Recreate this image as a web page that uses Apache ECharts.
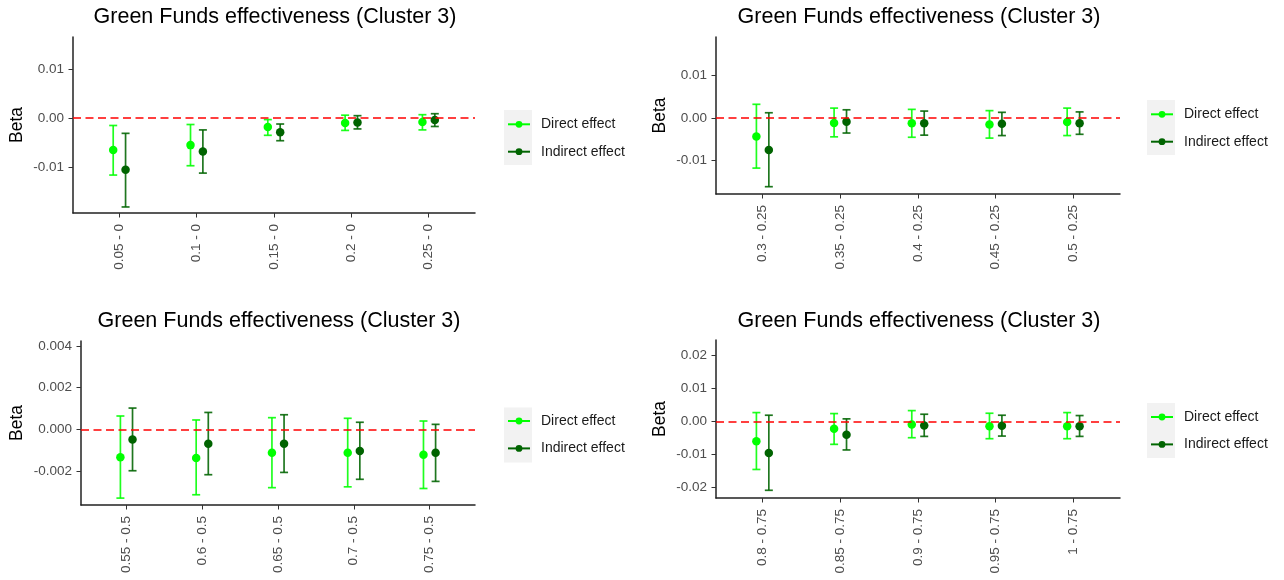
<!DOCTYPE html>
<html><head><meta charset="utf-8">
<script src="https://cdn.jsdelivr.net/npm/echarts@6/dist/echarts.min.js"></script>
<style>html,body{margin:0;padding:0;background:#fff}#c{width:1284px;height:580px}</style>
</head><body><div id="c"></div>
<script>
const titleText = 'Green Funds effectiveness (Cluster 3)';
const seriesNames = ['Direct effect', 'Indirect effect'];
const yName = 'Beta';

// Panel 1 (top-left)
const cats1 = ['0.05 - 0', '0.1 - 0', '0.15 - 0', '0.2 - 0', '0.25 - 0'];
const direct1   = [-0.0065, -0.0055, -0.0018, -0.0010, -0.0008];
const direct1Lo = [-0.0116, -0.0097, -0.0035, -0.0025, -0.0024];
const direct1Hi = [-0.0015, -0.0013, -0.0003, 0.0006, 0.0007];
const indirect1   = [-0.0105, -0.0068, -0.0029, -0.0009, -0.0004];
const indirect1Lo = [-0.0181, -0.0112, -0.0046, -0.0022, -0.0017];
const indirect1Hi = [-0.0031, -0.0024, -0.0012, 0.0005, 0.0009];
const yTicks1 = [-0.01, 0, 0.01];

// Panel 2 (top-right)
const cats2 = ['0.3 - 0.25', '0.35 - 0.25', '0.4 - 0.25', '0.45 - 0.25', '0.5 - 0.25'];
const direct2   = [-0.0044, -0.0012, -0.0013, -0.0016, -0.0010];
const direct2Lo = [-0.0119, -0.0045, -0.0046, -0.0048, -0.0042];
const direct2Hi = [0.0032, 0.0023, 0.0020, 0.0017, 0.0023];
const indirect2   = [-0.0076, -0.0009, -0.0013, -0.0014, -0.0013];
const indirect2Lo = [-0.0163, -0.0036, -0.0041, -0.0042, -0.0039];
const indirect2Hi = [0.0012, 0.0019, 0.0016, 0.0013, 0.0014];
const yTicks2 = [-0.01, 0, 0.01];

// Panel 3 (bottom-left)
const cats3 = ['0.55 - 0.5', '0.6 - 0.5', '0.65 - 0.5', '0.7 - 0.5', '0.75 - 0.5'];
const direct3   = [-0.00134, -0.00137, -0.00112, -0.00112, -0.00121];
const direct3Lo = [-0.00329, -0.00313, -0.00279, -0.00275, -0.00283];
const direct3Hi = [0.00064, 0.00045, 0.00056, 0.00053, 0.00040];
const indirect3   = [-0.00048, -0.00069, -0.00069, -0.00104, -0.00112];
const indirect3Lo = [-0.00198, -0.00217, -0.00206, -0.00239, -0.00249];
const indirect3Hi = [0.00102, 0.00081, 0.00070, 0.00034, 0.00024];
const yTicks3 = [-0.002, 0, 0.002, 0.004];

// Panel 4 (bottom-right)
const cats4 = ['0.8 - 0.75', '0.85 - 0.75', '0.9 - 0.75', '0.95 - 0.75', '1 - 0.75'];
const direct4   = [-0.0060, -0.0022, -0.0009, -0.0014, -0.0014];
const direct4Lo = [-0.0145, -0.0069, -0.0049, -0.0052, -0.0052];
const direct4Hi = [0.0027, 0.0024, 0.0033, 0.0025, 0.0027];
const indirect4   = [-0.0095, -0.0040, -0.0012, -0.0013, -0.0014];
const indirect4Lo = [-0.0208, -0.0086, -0.0045, -0.0044, -0.0045];
const indirect4Hi = [0.0019, 0.0008, 0.0022, 0.0019, 0.0018];
const yTicks4 = [-0.02, -0.01, 0, 0.01, 0.02];

const FONT = "'Liberation Sans', Arial, Helvetica, sans-serif";
const DIRECT = '#00ff00', INDIRECT = '#006400';
const DODGE = 0.08;

const panels = [
  {cats: cats1, d: direct1, dLo: direct1Lo, dHi: direct1Hi, i: indirect1, iLo: indirect1Lo, iHi: indirect1Hi,
   yMin: -0.01933, yMax: 0.01653, ticks: yTicks1, dec: 2,
   grid: {left: 73, top: 37, width: 402, height: 176}, legend: {left: 507, top: 117.3}, key: {x: 504, y: 110}, nameGap: 47, titleX: 275, titleTop: 6},
  {cats: cats2, d: direct2, dLo: direct2Lo, dHi: direct2Hi, i: indirect2, iLo: indirect2Lo, iHi: indirect2Hi,
   yMin: -0.01803, yMax: 0.01913, ticks: yTicks2, dec: 2,
   grid: {left: 716, top: 37, width: 404, height: 157}, legend: {left: 1150, top: 107.3}, key: {x: 1147, y: 100}, nameGap: 47, titleX: 919, titleTop: 6},
  {cats: cats3, d: direct3, dLo: direct3Lo, dHi: direct3Hi, i: indirect3, iLo: indirect3Lo, iHi: indirect3Hi,
   yMin: -0.00362, yMax: 0.00423, ticks: yTicks3, dec: 3,
   grid: {left: 81, top: 341, width: 394, height: 164}, legend: {left: 507, top: 414}, key: {x: 504, y: 407.5}, nameGap: 55, titleX: 279, titleTop: 310},
  {cats: cats4, d: direct4, dLo: direct4Lo, dHi: direct4Hi, i: indirect4, iLo: indirect4Lo, iHi: indirect4Hi,
   yMin: -0.02313, yMax: 0.02465, ticks: yTicks4, dec: 2,
   grid: {left: 716, top: 340, width: 404, height: 158}, legend: {left: 1150, top: 410}, key: {x: 1147, y: 403}, nameGap: 47, titleX: 919, titleTop: 310}
];

function errRender(color) {
  return function (params, api) {
    const x = api.value(0);
    const lo = api.coord([x, api.value(1)]);
    const hi = api.coord([x, api.value(2)]);
    const w = 4;
    const st = {stroke: color, lineWidth: 1.7, opacity: 0.88};
    return {type: 'group', children: [
      {type: 'line', shape: {x1: lo[0], y1: lo[1], x2: hi[0], y2: hi[1]}, style: st},
      {type: 'line', shape: {x1: lo[0] - w, y1: lo[1], x2: lo[0] + w, y2: lo[1]}, style: st},
      {type: 'line', shape: {x1: hi[0] - w, y1: hi[1], x2: hi[0] + w, y2: hi[1]}, style: st}
    ]};
  };
}

const grids = [], xAxes = [], yAxes = [], series = [], legends = [], titles = [], graphics = [];
panels.forEach((p, k) => {
  grids.push(Object.assign({containLabel: false}, p.grid));
  const xs = p.cats.map((c, j) => j + 1);
  xAxes.push({
    type: 'value', gridIndex: k, min: 0.4, max: 5.6,
    axisLine: {show: true, onZero: false, lineStyle: {color: '#222', width: 1.5}},
    axisTick: {show: true, length: 4.5, lineStyle: {color: '#333', width: 1}, customValues: xs},
    axisLabel: {customValues: xs, rotate: 90, margin: 11, color: '#4d4d4d', fontSize: 13.5, fontFamily: FONT,
      formatter: v => p.cats[Math.round(v) - 1] || ''},
    splitLine: {show: false}
  });
  yAxes.push({
    type: 'value', gridIndex: k, min: p.yMin, max: p.yMax,
    axisLine: {show: true, onZero: false, lineStyle: {color: '#222', width: 1.5}},
    axisTick: {show: true, length: 4.5, lineStyle: {color: '#333', width: 1}, customValues: p.ticks},
    axisLabel: {customValues: p.ticks, margin: 9, color: '#4d4d4d', fontSize: 13.5, fontFamily: FONT,
      formatter: v => Number(v).toFixed(p.dec)},
    splitLine: {show: false},
    name: yName, nameLocation: 'middle', nameGap: p.nameGap, nameRotate: 90,
    nameTextStyle: {fontSize: 17.5, color: '#000', fontFamily: FONT}
  });
  series.push({type: 'custom', name: 'Direct CI', xAxisIndex: k, yAxisIndex: k, silent: true, z: 2,
    renderItem: errRender(DIRECT), encode: {x: 0, y: [1, 2]},
    data: xs.map((x, j) => [x - DODGE, p.dLo[j], p.dHi[j]])});
  series.push({type: 'custom', name: 'Indirect CI', xAxisIndex: k, yAxisIndex: k, silent: true, z: 2,
    renderItem: errRender(INDIRECT), encode: {x: 0, y: [1, 2]},
    data: xs.map((x, j) => [x + DODGE, p.iLo[j], p.iHi[j]])});
  series.push({type: 'line', name: seriesNames[0], xAxisIndex: k, yAxisIndex: k, z: 3,
    symbol: 'circle', symbolSize: 8.5, showSymbol: true, itemStyle: {color: DIRECT},
    lineStyle: {width: 0, opacity: 0}, emphasis: {disabled: true},
    data: xs.map((x, j) => [x - DODGE, p.d[j]]),
    markLine: {silent: true, symbol: ['none', 'none'], label: {show: false}, animation: false,
      lineStyle: {color: '#ff0000', type: [8, 4.5], width: 1.6}, emphasis: {disabled: true},
      data: [{yAxis: 0}]}});
  series.push({type: 'line', name: seriesNames[1], xAxisIndex: k, yAxisIndex: k, z: 3,
    symbol: 'circle', symbolSize: 8.5, showSymbol: true, itemStyle: {color: INDIRECT},
    lineStyle: {width: 0, opacity: 0}, emphasis: {disabled: true},
    data: xs.map((x, j) => [x + DODGE, p.i[j]])});
  legends.push({data: seriesNames, orient: 'vertical', left: p.legend.left, top: p.legend.top,
    itemWidth: 22, itemHeight: 8.5, itemGap: 13.4, selectedMode: false, padding: 0,
    lineStyle: {width: 2, opacity: 1},
    textStyle: {fontSize: 14, color: '#1a1a1a', fontFamily: FONT, lineHeight: 14, padding: [0, 0, 0, 6]}});
  titles.push({text: titleText, left: p.titleX, top: p.titleTop, textAlign: 'center', padding: 0,
    textStyle: {fontSize: 21.5, fontWeight: 'normal', color: '#000', fontFamily: FONT}});
  graphics.push({type: 'rect', shape: {x: p.key.x, y: p.key.y, width: 28, height: 55},
    style: {fill: '#f2f2f2'}, z: -10, silent: true});
});

const chart = echarts.init(document.getElementById('c'), null, {renderer: 'canvas'});
chart.setOption({
  animation: false,
  backgroundColor: '#ffffff',
  title: titles,
  grid: grids,
  xAxis: xAxes,
  yAxis: yAxes,
  legend: legends,
  graphic: graphics,
  series: series
});
</script></body></html>
